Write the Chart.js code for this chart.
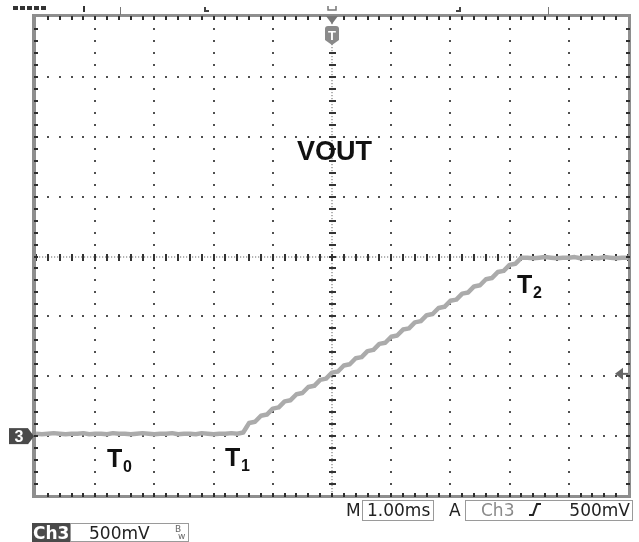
<!DOCTYPE html>
<html><head><meta charset="utf-8">
<script src="https://cdn.jsdelivr.net/npm/chart.js@4/dist/chart.umd.min.js"></script>
<style>html,body{margin:0;padding:0;background:#fff;}canvas{display:block;}</style>
</head><body>
<canvas id="c" width="639" height="542"></canvas>
<script>
// ---- data (time in ms, trigger at 0; voltage in V, Ch3 at 500 mV/div) ----
const timeMs = [
 -5.0,-4.9,-4.8,-4.7,-4.6,-4.5,-4.4,-4.3,-4.2,-4.1,
 -4.0,-3.9,-3.8,-3.7,-3.6,-3.5,-3.4,-3.3,-3.2,-3.1,
 -3.0,-2.9,-2.8,-2.7,-2.6,-2.5,-2.4,-2.3,-2.2,-2.1,
 -2.0,-1.9,-1.8,-1.7,-1.6,-1.5,-1.4,-1.3,-1.2,-1.1,
 -1.0,-0.9,-0.8,-0.7,-0.6,-0.5,-0.4,-0.3,-0.2,-0.1,
 0.0,0.1,0.2,0.3,0.4,0.5,0.6,0.7,0.8,0.9,
 1.0,1.1,1.2,1.3,1.4,1.5,1.6,1.7,1.8,1.9,
 2.0,2.1,2.2,2.3,2.4,2.5,2.6,2.7,2.8,2.9,
 3.0,3.1,3.2,3.3,3.4,3.5,3.6,3.7,3.8,3.9,
 4.0,4.1,4.2,4.3,4.4,4.5,4.6,4.7,4.8,4.9,5.0
];
const vout = [
 0.020,0.015,0.020,0.025,0.020,0.015,0.020,0.020,0.025,0.015,
 0.020,0.020,0.015,0.025,0.020,0.020,0.015,0.020,0.025,0.020,
 0.015,0.020,0.020,0.025,0.015,0.020,0.020,0.015,0.025,0.020,
 0.015,0.020,0.020,0.025,0.020,0.030,0.11,0.12,0.17,0.18,
 0.23,0.24,0.29,0.30,0.35,0.36,0.41,0.42,0.47,0.48,
 0.53,0.54,0.59,0.60,0.65,0.66,0.71,0.72,0.77,0.78,
 0.83,0.84,0.89,0.90,0.95,0.96,1.01,1.02,1.07,1.08,
 1.13,1.14,1.19,1.20,1.25,1.26,1.31,1.32,1.37,1.38,
 1.43,1.44,1.49,1.490,1.485,1.490,1.495,1.490,1.485,1.490,
 1.490,1.495,1.485,1.490,1.490,1.485,1.495,1.490,1.485,1.490,1.490
];
const xDivs = [-5,-4,-3,-2,-1,0,1,2,3,4,5];           // 1.00 ms/div
const yDivs = [-0.5,0,0.5,1.0,1.5,2.0,2.5,3.0,3.5];    // 500 mV/div
const groundLevel = 0;        // Ch3 marker
const triggerLevel = 0.52;    // trigger level arrow
const centerTime = 0, centerVolt = 1.5;
const labelTitle = 'VOUT';
const timeLabels = [{t:'T',s:'0'},{t:'T',s:'1'},{t:'T',s:'2'}];
const statusText = {m:'M', timebase:'1.00ms', a:'A', src:'Ch3', level:'500mV', ch:'Ch3', scale:'500mV', bw:'Bw'};

const points = timeMs.map((t,i)=>({x:t, y:vout[i]}));

const scopePlugin = {
  id:'scope',
  beforeDraw(chart){
    const c = chart.ctx;
    c.save(); c.fillStyle='#fff'; c.fillRect(0,0,chart.width,chart.height); c.restore();
  },
  beforeDatasetsDraw(chart){
    const c = chart.ctx, a = chart.chartArea, X = chart.scales.x, Y = chart.scales.y;
    c.save();
    const sub = 5;
    const xMinor = [], yMinor = [];
    for (let i=0;i<xDivs.length-1;i++) for (let j=0;j<sub;j++) xMinor.push(xDivs[i]+j*(xDivs[i+1]-xDivs[i])/sub);
    xMinor.push(xDivs[xDivs.length-1]);
    for (let i=0;i<yDivs.length-1;i++) for (let j=0;j<sub;j++) yMinor.push(yDivs[i]+j*(yDivs[i+1]-yDivs[i])/sub);
    yMinor.push(yDivs[yDivs.length-1]);
    c.fillStyle = '#505050';
    xDivs.slice(1,-1).forEach(t=>{
      if (t===centerTime) return;
      const px = Math.round(X.getPixelForValue(t));
      yMinor.forEach(v=>{ const py=Math.round(Y.getPixelForValue(v)); c.fillRect(px-1,py-1,2,2); });
    });
    yDivs.slice(1,-1).forEach(v=>{
      if (v===centerVolt) return;
      const py = Math.round(Y.getPixelForValue(v));
      xMinor.forEach(t=>{ const px=Math.round(X.getPixelForValue(t)); c.fillRect(px-1,py-1,2,2); });
    });
    const cx = Math.round(X.getPixelForValue(centerTime));
    const cy = Math.round(Y.getPixelForValue(centerVolt));
    c.fillStyle = '#666';
    for (let py=a.top; py<a.bottom; py+=3) c.fillRect(cx-0.5,py,1,1.2);
    for (let px=a.left; px<a.right; px+=3) c.fillRect(px,cy-0.5,1.2,1);
    c.fillStyle = '#333';
    yMinor.forEach(v=>{ const py=Math.round(Y.getPixelForValue(v)); c.fillRect(cx-3,py-1,7,2); });
    xMinor.forEach(t=>{ const px=Math.round(X.getPixelForValue(t)); c.fillRect(px-1,cy-3,2,7); });
    c.restore();
  },
  afterDatasetsDraw(chart){
    const c = chart.ctx, a = chart.chartArea, X = chart.scales.x, Y = chart.scales.y;
    c.save();
    c.fillStyle = '#8e8e8e';
    c.fillRect(a.left-4, a.top-3, 4, a.bottom-a.top+5);
    c.fillRect(a.left-4, a.top-3, a.right-a.left+7, 3);
    c.fillRect(a.right, a.top-3, 3, a.bottom-a.top+5);
    c.fillRect(a.left-4, a.bottom-1, a.right-a.left+7, 3);
    const sub=5;
    c.fillStyle = '#2e2e2e';
    for (let i=0;i<xDivs.length-1;i++) for (let j=0;j<sub;j++){
      const t = xDivs[i]+j*(xDivs[i+1]-xDivs[i])/sub;
      const px = Math.round(X.getPixelForValue(t));
      if (px<=a.left+1) continue;
      c.fillRect(px-1, a.top-1, 2, 4);
      c.fillRect(px-1, a.bottom-3, 2, 4);
    }
    for (let i=0;i<yDivs.length-1;i++) for (let j=0;j<sub;j++){
      const v = yDivs[i]+j*(yDivs[i+1]-yDivs[i])/sub;
      const py = Math.round(Y.getPixelForValue(v));
      if (py>=a.bottom-1) continue;
      c.fillRect(a.left-2, py-1, 4, 2);
      c.fillRect(a.right-2, py-1, 4, 2);
    }
    // top record strip
    c.fillStyle = '#333';
    for (let k=0;k<5;k++) c.fillRect(13+k*7, 6, 5, 4);
    c.fillRect(83, 6, 2, 6);
    c.fillStyle = '#777';
    c.fillRect(120, 7, 1, 8);
    c.fillRect(548, 7, 1, 8);
    c.fillStyle = '#444';
    c.fillRect(204, 7, 2, 5); c.fillRect(204, 10, 5, 2);
    c.fillRect(459, 7, 2, 5); c.fillRect(456, 10, 5, 2);
    // trigger position marker
    const tx = X.getPixelForValue(centerTime);
    c.strokeStyle = '#777'; c.lineWidth = 1.5;
    c.beginPath(); c.moveTo(tx-4,6); c.lineTo(tx-4,10); c.lineTo(tx+4,10); c.lineTo(tx+4,6); c.stroke();
    c.fillStyle = '#777';
    c.beginPath(); c.moveTo(tx-6,16); c.lineTo(tx+6,16); c.lineTo(tx,24); c.closePath(); c.fill();
    c.fillStyle = '#8a8a8a';
    c.beginPath();
    c.moveTo(tx-7,29); c.quadraticCurveTo(tx-7,26,tx-4,26); c.lineTo(tx+4,26); c.quadraticCurveTo(tx+7,26,tx+7,29);
    c.lineTo(tx+7,40); c.lineTo(tx,45); c.lineTo(tx-7,40); c.closePath(); c.fill();
    c.fillStyle = '#fff'; c.font = 'bold 13px "Liberation Sans"'; c.textAlign='center'; c.textBaseline='alphabetic';
    c.fillText('T', tx, 40);
    // ground marker "3"
    const gy = Y.getPixelForValue(groundLevel);
    c.fillStyle = '#4a4a4a';
    c.fillRect(9, gy-8, 19, 16);
    c.beginPath(); c.moveTo(28,gy-8); c.lineTo(34,gy); c.lineTo(28,gy+8); c.closePath(); c.fill();
    c.fillStyle = '#fff'; c.font = 'bold 16px "Liberation Sans"';
    c.fillText('3', 19, gy+6);
    // trigger level arrow
    const ly = Y.getPixelForValue(triggerLevel);
    c.fillStyle = '#666';
    c.beginPath(); c.moveTo(615,ly); c.lineTo(623,ly-6); c.lineTo(623,ly+6); c.closePath(); c.fill();
    c.fillRect(622, ly-1, 6, 2);
    // annotations
    c.fillStyle = '#111'; c.textAlign='left';
    c.font = 'bold 27px "Liberation Sans"';
    c.fillText(labelTitle, 297, 160);
    const lab = (p, x, y) => {
      c.font = 'bold 25px "Liberation Sans"'; c.fillText(p.t, x, y);
      c.font = 'bold 16px "Liberation Sans"'; c.fillText(p.s, x+16, y+5);
    };
    lab(timeLabels[0], 107, 467);
    lab(timeLabels[1], 225, 466);
    lab(timeLabels[2], 517, 293);
    // status bar
    c.font = '17px "DejaVu Sans"';
    c.fillStyle = '#222';
    c.fillText(statusText.m, 346, 516);
    c.strokeStyle = '#9a9a9a'; c.lineWidth = 1;
    c.strokeRect(362.5, 500.5, 71, 20);
    c.fillText(statusText.timebase, 367, 516);
    c.fillText(statusText.a, 449, 516);
    c.strokeRect(465.5, 500.5, 167, 20);
    c.fillStyle = '#8a8a8a';
    c.fillText(statusText.src, 481, 516);
    c.strokeStyle = '#222'; c.lineWidth = 2;
    c.beginPath(); c.moveTo(529,515); c.lineTo(533,515); c.lineTo(537,504); c.lineTo(541,504); c.stroke();
    c.fillStyle = '#222'; c.textAlign='right';
    c.fillText(statusText.level, 630, 516);
    c.textAlign='left';
    c.fillStyle = '#4a4a4a';
    c.fillRect(32, 523, 38, 19);
    c.fillStyle = '#fff'; c.font = 'bold 17px "DejaVu Sans"';
    c.fillText(statusText.ch, 33, 539);
    c.strokeStyle = '#9a9a9a'; c.lineWidth = 1;
    c.strokeRect(70.5, 523.5, 118, 18);
    c.fillStyle = '#222'; c.font = '17px "DejaVu Sans"';
    c.fillText(statusText.scale, 89, 539);
    c.fillStyle = '#666'; c.font = '9px "DejaVu Sans"';
    c.fillText('B', 175, 532); c.fillText('w', 178, 539);
    c.restore();
  }
};

new Chart(document.getElementById('c'), {
  type:'line',
  data:{ datasets:[{ data:points, borderColor:'#ababab', borderWidth:4.5, pointRadius:0, tension:0, fill:false, borderJoinStyle:'round' }] },
  options:{
    responsive:false, animation:false, devicePixelRatio:1,
    layout:{ padding:{ left:36, right:11, top:17, bottom:46 } },
    plugins:{ legend:{display:false}, tooltip:{enabled:false} },
    scales:{
      x:{ type:'linear', min:xDivs[0], max:xDivs[xDivs.length-1], display:false },
      y:{ type:'linear', min:yDivs[0], max:yDivs[yDivs.length-1], display:false }
    }
  },
  plugins:[scopePlugin]
});
</script>
</body></html>
